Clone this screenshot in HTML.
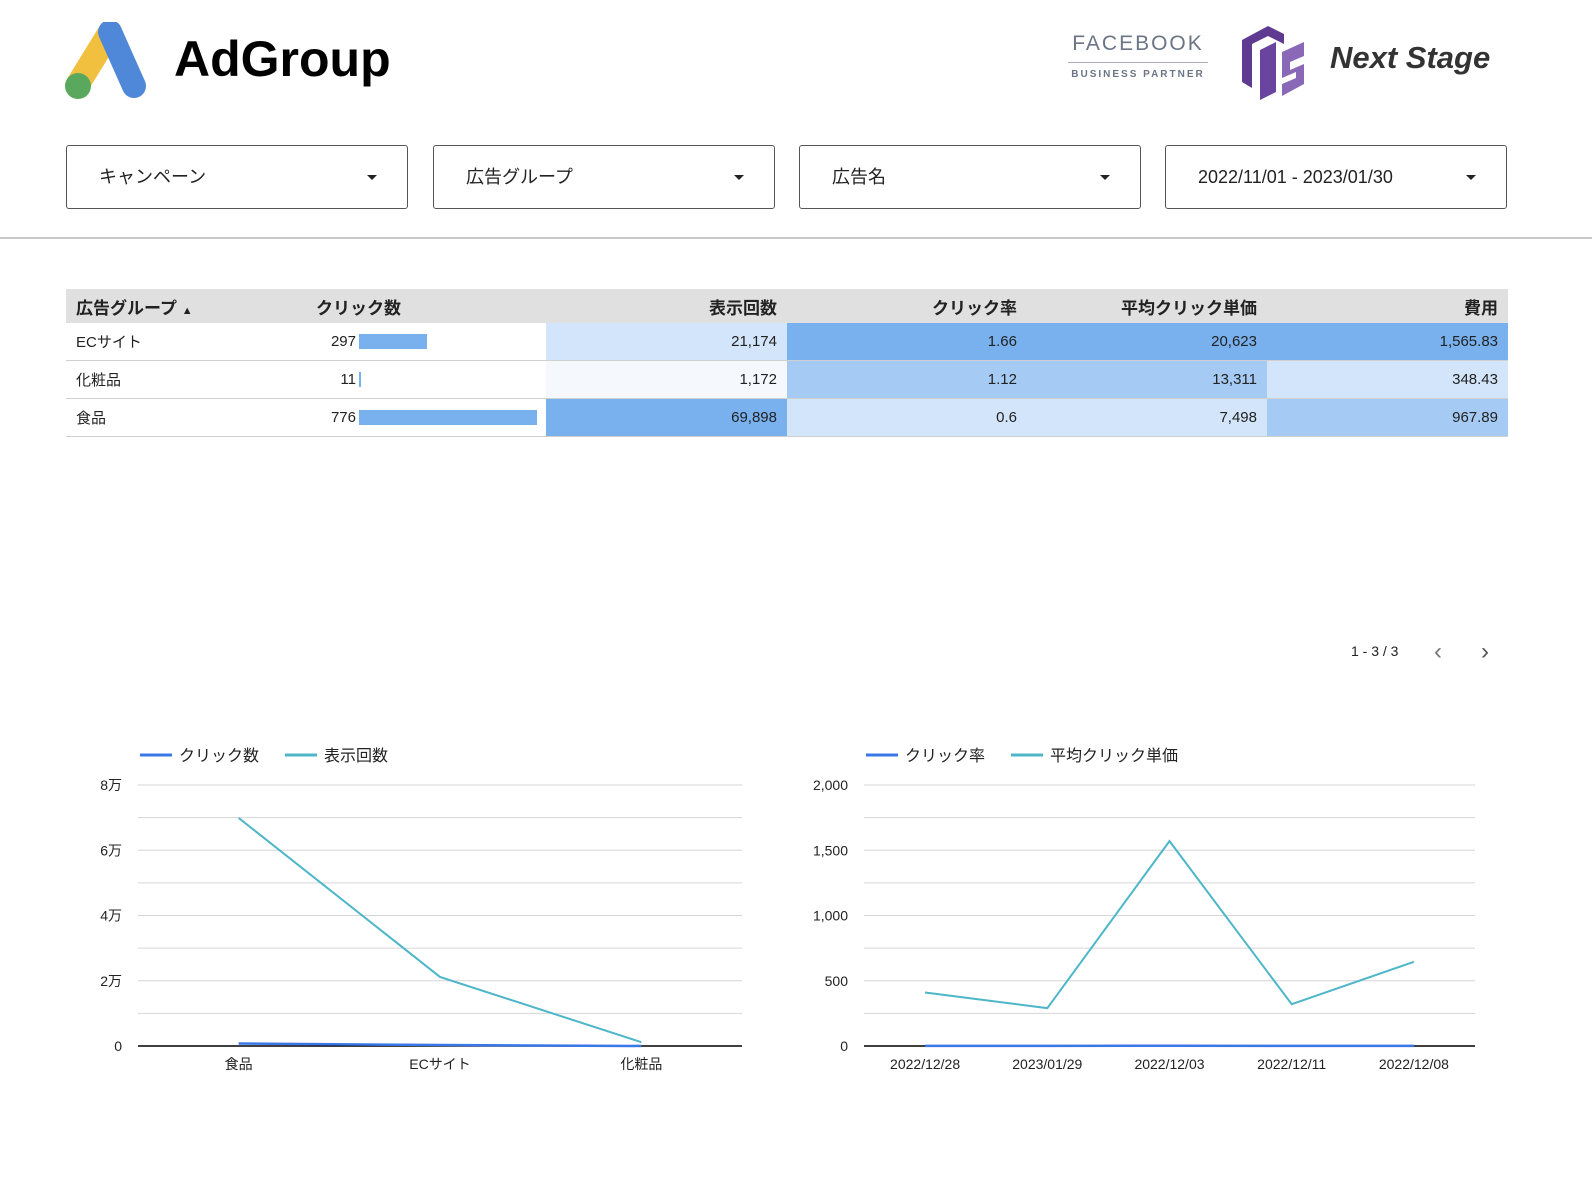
<!DOCTYPE html>
<html><head><meta charset="utf-8">
<style>
body{margin:0;width:1592px;height:1188px;background:#fff;position:relative;overflow:hidden;font-family:"Liberation Sans","Noto Sans CJK JP",sans-serif;color:#222}
.abs{position:absolute}
.dd{position:absolute;top:145px;height:64px;border:1px solid #555;border-radius:3px;box-sizing:border-box;width:342px;font-size:18px;line-height:62px;padding-left:32px}
.dd .car{position:absolute;right:30px;top:29px;width:0;height:0;border-left:5px solid transparent;border-right:5px solid transparent;border-top:5px solid #222}
table{position:absolute;left:66px;top:289px;border-collapse:collapse;width:1442px;font-size:15px;table-layout:fixed}
th{background:#e0e0e0;height:34px;font-size:17px;font-weight:bold;padding:0 10px;text-align:right}
td{height:37px;padding:0 10px;text-align:right;border-bottom:1px solid #d0d0d0;white-space:nowrap}
.l{text-align:left}
.d{background:#78b1ee}.m{background:#a5cbf4}.lt{background:#d3e5fa}.vl{background:#f5f9fe}
.num{display:inline-block;width:40px;text-align:right;vertical-align:middle}
.bar{display:inline-block;height:15px;background:#78b1ee;vertical-align:middle;margin-left:3px}
</style></head><body>
<svg class="abs" style="left:60px;top:22px" width="90" height="80">
<line x1="18" y1="62" x2="50" y2="10" stroke="#f2c03f" stroke-width="24" stroke-linecap="round"/>
<line x1="50" y1="10" x2="74" y2="64" stroke="#4f88d9" stroke-width="24" stroke-linecap="round"/>
<circle cx="18" cy="64" r="13" fill="#5aa85d"/>
</svg>
<div class="abs" style="left:174px;top:30px;font-size:50px;font-weight:bold;color:#000">AdGroup</div>
<div class="abs" style="left:1068px;top:32px;width:140px;text-align:center;color:#6b7585">
<div style="font-size:21px;letter-spacing:2px">FACEBOOK</div>
<div style="border-top:1px solid #aab;margin:6px 0 6px"></div>
<div style="font-size:10px;letter-spacing:2px;font-weight:bold">BUSINESS PARTNER</div></div>
<svg class="abs" style="left:1238px;top:22px" width="72" height="80">
<path d="M4 18 L30 4 L46 12 L46 22 L30 14 L14 22 L14 66 L4 60Z" fill="#5e3a90"/>
<path d="M22 28 L38 20 L38 70 L22 78Z" fill="#6a45a0"/>
<path d="M44 30 L66 20 L66 34 L52 40 L52 48 L66 42 L66 62 L44 74 L44 62 L58 56 L58 50 L44 56Z" fill="#8a68b8"/>
</svg>
<div class="abs" style="left:1330px;top:40px;font-size:31px;font-weight:bold;font-style:italic;color:#333">Next Stage</div>

<div class="dd" style="left:66px">キャンペーン<span class="car"></span></div>
<div class="dd" style="left:433px">広告グループ<span class="car"></span></div>
<div class="dd" style="left:799px">広告名<span class="car"></span></div>
<div class="dd" style="left:1165px">2022/11/01 - 2023/01/30<span class="car"></span></div>
<div class="abs" style="left:0;top:237px;width:1592px;height:2px;background:#c8c8c8"></div>

<table>
<colgroup><col style="width:240px"><col style="width:240px"><col style="width:241px"><col style="width:240px"><col style="width:240px"><col style="width:241px"></colgroup>
<tr><th class="l">広告グループ <span style="font-size:11px">▲</span></th><th class="l">クリック数</th><th>表示回数</th><th>クリック率</th><th>平均クリック単価</th><th>費用</th></tr>
<tr><td class="l">ECサイト</td><td class="l"><span class="num">297</span><span class="bar" style="width:68px"></span></td><td class="lt">21,174</td><td class="d">1.66</td><td class="d">20,623</td><td class="d">1,565.83</td></tr>
<tr><td class="l">化粧品</td><td class="l"><span class="num">11</span><span class="bar" style="width:2px"></span></td><td class="vl">1,172</td><td class="m">1.12</td><td class="m">13,311</td><td class="lt">348.43</td></tr>
<tr><td class="l">食品</td><td class="l"><span class="num">776</span><span class="bar" style="width:178px"></span></td><td class="d">69,898</td><td class="lt">0.6</td><td class="lt">7,498</td><td class="m">967.89</td></tr>
</table>
<div class="abs" style="left:1351px;top:643px;font-size:14px">1 - 3 / 3</div>
<div class="abs" style="left:1434px;top:638px;font-size:24px;color:#777">‹</div>
<div class="abs" style="left:1481px;top:638px;font-size:24px;color:#555">›</div>

<svg class="abs" id="c1" style="left:0;top:720px" width="790" height="380"></svg>
<svg class="abs" id="c2" style="left:790px;top:720px" width="720" height="380"></svg>
<script>
const cats1=["食品","ECサイト","化粧品"];
const clicks1=[776,297,11];
const imps1=[69898,21174,1172];
const ticks1=[0,20000,40000,60000,80000];
const tickLabels1=["0","2万","4万","6万","8万"];
const dates2=["2022/12/28","2023/01/29","2022/12/03","2022/12/11","2022/12/08"];
const ctr2=[1.2,0.9,1.66,0.8,1.1];
const cpc2=[410,290,1570,320,645];
const ticks2=[0,500,1000,1500,2000];
const tickLabels2=["0","500","1,000","1,500","2,000"];
const NS="http://www.w3.org/2000/svg";
function mk(svg,t,a,txt){const e=document.createElementNS(NS,t);for(const k in a)e.setAttribute(k,a[k]);if(txt!==undefined)e.textContent=txt;svg.appendChild(e);return e;}
function chart(svg,x0,x1,max,ticks,labels,cats,s1,s2,names,pre){
  const y0=326,yT=65;
  const y=v=>y0-(v/max)*(y0-yT);
  const bw=(x1-x0)/cats.length;
  const x=i=>x0+bw*(i+0.5);
  for(let k=0;k<=8;k++){const v=max*k/8;const g=mk(svg,'line',{x1:x0,x2:x1,y1:y(v),y2:y(v),stroke:k==0?'#000':'#d6d6d6','stroke-width':k==0?1.5:1});
    }
  ticks.forEach((t,i)=>{const e=mk(svg,'text',{x:x0-16,y:y(t)+5,'text-anchor':'end','font-size':14,fill:'#222'},labels[i]);
    });
  cats.forEach((c,i)=>{const e=mk(svg,'text',{x:x(i),y:y0+23,'text-anchor':'middle','font-size':14,fill:'#222'},c);
    });
  const p2=mk(svg,'polyline',{points:s2.map((v,i)=>x(i)+','+y(v)).join(' '),fill:'none',stroke:'#4db6c9','stroke-width':2});
  
  const p1=mk(svg,'polyline',{points:s1.map((v,i)=>x(i)+','+y(v)).join(' '),fill:'none',stroke:'#3b78e7','stroke-width':2.5});
  
  const cols=['#3b78e7','#4db6c9'];let lx=x0+2;
  names.forEach((n,i)=>{const l=mk(svg,'line',{x1:lx,x2:lx+32,y1:35,y2:35,stroke:cols[i],'stroke-width':3});
    
    const t=mk(svg,'text',{x:lx+39,y:41,'font-size':16,fill:'#222'},n);
    
    lx+=39+n.length*16+26;});
}
chart(document.getElementById('c1'),138,742,80000,ticks1,tickLabels1,cats1,clicks1,imps1,["クリック数","表示回数"],'left');
chart(document.getElementById('c2'),74,685,2000,ticks2,tickLabels2,dates2,ctr2,cpc2,["クリック率","平均クリック単価"],'right');
</script>
</body></html>
